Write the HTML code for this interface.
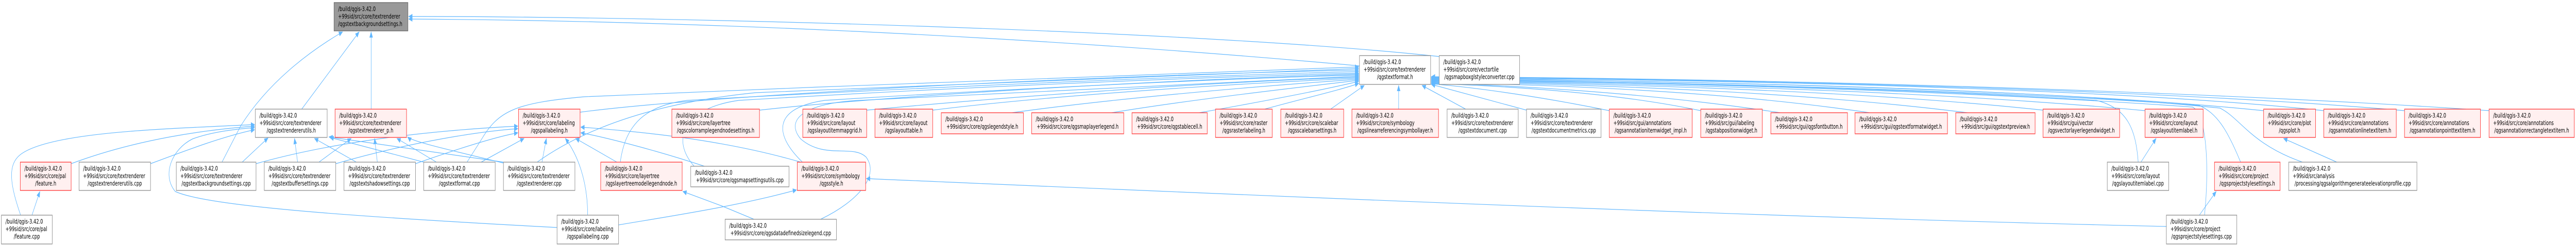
<!DOCTYPE html>
<html><head><meta charset="utf-8">
<style>
html,body{margin:0;padding:0;background:#fff;width:100vw;height:100vh;overflow:hidden;}
svg{display:block;width:100vw;height:100vh;}
text{font-family:"DejaVu Sans","Liberation Sans",sans-serif;font-size:12.5px;fill:#000;}
.m{text-anchor:middle;}
.w{fill:#fff;stroke:#8c8c8c;stroke-width:1.3;}
.r{fill:#fff0f0;stroke:#ff3333;stroke-width:1.3;}
.g{fill:#999;stroke:#666;stroke-width:1.3;}
.e{fill:none;stroke:#63b8ff;stroke-width:1.2;}
</style></head><body>
<svg viewBox="0 0 7496 476" preserveAspectRatio="none" xmlns="http://www.w3.org/2000/svg">
<defs><marker id="a" markerUnits="userSpaceOnUse" markerWidth="12" markerHeight="10" refX="11" refY="5" orient="auto"><path d="M0,0 L12,5 L0,10 z" fill="#63b8ff"/></marker></defs>
<g class="e" marker-end="url(#a)">
<path d="M3956,128 C3000,70 2000,40 1189,37"/>
<path d="M4190,110 C3500,60 2000,32 1189,32"/>
<path d="M878,212 L1045,62"/>
<path d="M1080,212 L1080,62"/>
<path d="M646,315 L700,245 C780,160 900,100 997,62"/>
<path d="M207,318 C400,270 600,252 741,245"/>
<path d="M438,318 C550,290 650,265 741,252"/>
<path d="M60,418 C30,360 20,320 60,300 C150,255 500,250 741,242"/>
<path d="M1621,442 C1000,420 600,400 510,372 C470,340 500,290 560,270 C620,255 700,250 741,248"/>
<path d="M700,318 L780,268"/>
<path d="M866,315 L857,269"/>
<path d="M1037,315 L915,269"/>
<path d="M1233,315 L960,267"/>
<path d="M1465,315 L957,266"/>
<path d="M928,315 L1022,269"/>
<path d="M1098,315 L1090,269"/>
<path d="M1270,315 L1155,269"/>
<path d="M1473,318 C1300,290 1200,275 1186,266"/>
<path d="M745,318 C1000,270 1300,252 1507,245"/>
<path d="M977,318 C1200,275 1400,255 1507,250"/>
<path d="M1209,318 C1350,285 1450,265 1507,258"/>
<path d="M1400,315 L1525,269"/>
<path d="M1577,315 L1590,269"/>
<path d="M1710,418 C1710,350 1680,300 1645,269"/>
<path d="M1795,315 L1675,269"/>
<path d="M2050,323 C1900,290 1750,265 1690,258"/>
<path d="M2330,315 C2100,270 1850,255 1690,247"/>
<path d="M2194,426 L2100,400 L1987,372"/>
<path d="M1800,437 C1950,420 2150,400 2318,369"/>
<path d="M6304,440 C5000,420 3500,375 2521,347"/>
<path d="M1359,315 L1400,272 C1450,215 1500,200 1700,188 C2500,165 3500,140 3954,130"/>
<path d="M1563,315 C1700,250 1900,200 2200,180 C3000,155 3600,140 3954,133"/>
<path d="M1688,218 C2000,190 3000,150 3954,136"/>
<path d="M1805,315 C1820,240 1880,205 2000,195 C2800,165 3600,145 3954,139"/>
<path d="M2020,323 C1950,270 1990,210 2150,195 C2900,165 3600,148 3954,142"/>
<path d="M2210,214 C2600,185 3400,155 3954,144"/>
<path d="M2335,315 C2250,260 2250,210 2400,195 C3000,170 3600,152 3954,146"/>
<path d="M2388,426 C2500,390 2560,340 2520,305 C2480,280 2400,310 2330,270 C2280,230 2350,200 2500,195 C3100,172 3600,155 3954,148"/>
<path d="M2522,214 C2900,190 3500,160 3954,150"/>
<path d="M2714,214 C3000,190 3500,165 3954,152"/>
<path d="M2945,219 C3200,195 3600,170 3954,154"/>
<path d="M3235,219 C3450,195 3750,172 3954,156"/>
<path d="M3490,219 C3650,200 3850,175 3954,158"/>
<path d="M3680,212 C3800,190 3900,175 3954,162"/>
<path d="M3872,212 L3970,166"/>
<path d="M4070,212 L4070,166"/>
<path d="M4265,212 L4138,166"/>
<path d="M4442,214 L4165,164"/>
<path d="M4683,215 C4500,190 4300,170 4165,163"/>
<path d="M4949,215 C4700,180 4400,168 4165,162"/>
<path d="M5180,219 C4800,180 4400,166 4165,161"/>
<path d="M5440,219 C5000,175 4500,165 4165,160"/>
<path d="M5725,219 C5200,175 4600,164 4165,159"/>
<path d="M5945,214 C5400,175 4700,163 4165,158"/>
<path d="M6242,215 C5600,175 4800,162 4165,157"/>
<path d="M6222,315 C6215,250 6190,210 6100,195 C5500,170 4800,160 4165,156"/>
<path d="M6415,418 C6430,320 6420,220 6380,208 C5800,180 4900,160 4165,155"/>
<path d="M6520,315 C6480,250 6450,220 6400,205 C5800,175 4900,160 4165,154"/>
<path d="M6700,315 C6550,280 6520,230 6460,210 C5900,172 5000,158 4165,153"/>
<path d="M6587,215 C6000,175 5000,158 4165,152"/>
<path d="M6762,215 C6200,175 5200,156 4165,151"/>
<path d="M6997,215 C6400,180 5300,155 4165,150"/>
<path d="M7243,215 C6600,185 5400,154 4165,149"/>
<path d="M93,418 L116,372"/>
<path d="M6230,315 L6274,269"/>
<path d="M6400,418 L6449,372"/>
<path d="M6800,315 L6645,269"/>
</g>
<rect class="g" x="972" y="5" width="215" height="55"/>
<text x="984" y="21.5">/build/qgis-3.42.0</text><text x="984" y="36">+99sid/src/core/textrenderer</text><text x="984" y="50.5">/qgstextbackgroundsettings.h</text>

<rect class="w" x="743" y="212" width="209" height="55"/>
<text x="755" y="228.5">/build/qgis-3.42.0</text><text x="755" y="243">+99sid/src/core/textrenderer</text><text class="m" x="847.5" y="257.5">/qgstextrendererutils.h</text>

<rect class="r" x="975" y="212" width="208" height="55"/>
<text x="987" y="228.5">/build/qgis-3.42.0</text><text x="987" y="243">+99sid/src/core/textrenderer</text><text class="m" x="1079" y="257.5">/qgstextrenderer_p.h</text>

<rect class="r" x="59" y="315" width="148" height="55"/>
<text x="71" y="331.5">/build/qgis-3.42.0</text><text x="71" y="346">+99sid/src/core/pal</text><text class="m" x="133" y="360.5">/feature.h</text>

<rect class="w" x="230" y="315" width="208" height="55"/>
<text x="242" y="331.5">/build/qgis-3.42.0</text><text x="242" y="346">+99sid/src/core/textrenderer</text><text class="m" x="334" y="360.5">/qgstextrendererutils.cpp</text>

<rect class="w" x="513" y="315" width="232" height="55"/>
<text x="525" y="331.5">/build/qgis-3.42.0</text><text x="525" y="346">+99sid/src/core/textrenderer</text><text class="m" x="629" y="360.5">/qgstextbackgroundsettings.cpp</text>

<rect class="w" x="4" y="418" width="148" height="56"/>
<text x="16" y="434.5">/build/qgis-3.42.0</text><text x="16" y="449">+99sid/src/core/pal</text><text class="m" x="78" y="463.5">/feature.cpp</text>

<rect class="w" x="769" y="315" width="208" height="55"/>
<text x="781" y="331.5">/build/qgis-3.42.0</text><text x="781" y="346">+99sid/src/core/textrenderer</text><text class="m" x="873" y="360.5">/qgstextbuffersettings.cpp</text>

<rect class="w" x="1001" y="315" width="208" height="55"/>
<text x="1013" y="331.5">/build/qgis-3.42.0</text><text x="1013" y="346">+99sid/src/core/textrenderer</text><text class="m" x="1105" y="360.5">/qgstextshadowsettings.cpp</text>

<rect class="w" x="1233" y="315" width="208" height="55"/>
<text x="1245" y="331.5">/build/qgis-3.42.0</text><text x="1245" y="346">+99sid/src/core/textrenderer</text><text class="m" x="1337" y="360.5">/qgstextformat.cpp</text>

<rect class="r" x="1509" y="212" width="179" height="55"/>
<text x="1521" y="228.5">/build/qgis-3.42.0</text><text x="1521" y="243">+99sid/src/core/labeling</text><text class="m" x="1598.5" y="257.5">/qgspallabeling.h</text>

<rect class="w" x="1465" y="315" width="208" height="55"/>
<text x="1477" y="331.5">/build/qgis-3.42.0</text><text x="1477" y="346">+99sid/src/core/textrenderer</text><text class="m" x="1569" y="360.5">/qgstextrenderer.cpp</text>

<rect class="r" x="1748" y="315" width="237" height="55"/>
<text x="1760" y="331.5">/build/qgis-3.42.0</text><text x="1760" y="346">+99sid/src/core/layertree</text><text class="m" x="1866.5" y="360.5">/qgslayertreemodellegendnode.h</text>

<rect class="w" x="1621" y="418" width="179" height="56"/>
<text x="1633" y="434.5">/build/qgis-3.42.0</text><text x="1633" y="449">+99sid/src/core/labeling</text><text class="m" x="1710.5" y="463.5">/qgspallabeling.cpp</text>

<rect class="r" x="1955" y="212" width="255" height="55"/>
<text x="1967" y="228.5">/build/qgis-3.42.0</text><text x="1967" y="243">+99sid/src/core/layertree</text><text class="m" x="2082.5" y="257.5">/qgscolorramplegendnodesettings.h</text>

<rect class="w" x="2010" y="323" width="286" height="40"/>
<text x="2022" y="339.5">/build/qgis-3.42.0</text><text class="m" x="2153" y="354">+99sid/src/core/qgsmapsettingsutils.cpp</text>

<rect class="r" x="2320" y="315" width="199" height="55"/>
<text x="2332" y="331.5">/build/qgis-3.42.0</text><text x="2332" y="346">+99sid/src/core/symbology</text><text class="m" x="2419.5" y="360.5">/qgsstyle.h</text>

<rect class="w" x="2110" y="426" width="324" height="40"/>
<text x="2122" y="442.5">/build/qgis-3.42.0</text><text class="m" x="2272" y="457">+99sid/src/core/qgsdatadefinedsizelegend.cpp</text>

<rect class="r" x="2336" y="212" width="186" height="55"/>
<text x="2348" y="228.5">/build/qgis-3.42.0</text><text x="2348" y="243">+99sid/src/core/layout</text><text class="m" x="2429" y="257.5">/qgslayoutitemmapgrid.h</text>

<rect class="r" x="2546" y="212" width="168" height="55"/>
<text x="2558" y="228.5">/build/qgis-3.42.0</text><text x="2558" y="243">+99sid/src/core/layout</text><text class="m" x="2630" y="257.5">/qgslayouttable.h</text>

<rect class="r" x="2739" y="219" width="239" height="41"/>
<text x="2751" y="235.5">/build/qgis-3.42.0</text><text class="m" x="2858.5" y="250">+99sid/src/core/qgslegendstyle.h</text>

<rect class="r" x="3002" y="219" width="268" height="41"/>
<text x="3014" y="235.5">/build/qgis-3.42.0</text><text class="m" x="3136" y="250">+99sid/src/core/qgsmaplayerlegend.h</text>

<rect class="r" x="3294" y="219" width="219" height="41"/>
<text x="3306" y="235.5">/build/qgis-3.42.0</text><text class="m" x="3403.5" y="250">+99sid/src/core/qgstablecell.h</text>

<rect class="r" x="3537" y="212" width="165" height="55"/>
<text x="3549" y="228.5">/build/qgis-3.42.0</text><text x="3549" y="243">+99sid/src/core/raster</text><text class="m" x="3619.5" y="257.5">/qgsrasterlabeling.h</text>

<rect class="r" x="3727" y="212" width="183" height="55"/>
<text x="3739" y="228.5">/build/qgis-3.42.0</text><text x="3739" y="243">+99sid/src/core/scalebar</text><text class="m" x="3818.5" y="257.5">/qgsscalebarsettings.h</text>

<rect class="r" x="3934" y="212" width="252" height="55"/>
<text x="3946" y="228.5">/build/qgis-3.42.0</text><text x="3946" y="243">+99sid/src/core/symbology</text><text class="m" x="4060" y="257.5">/qgslinearreferencingsymbollayer.h</text>

<rect class="w" x="4211" y="212" width="207" height="55"/>
<text x="4223" y="228.5">/build/qgis-3.42.0</text><text x="4223" y="243">+99sid/src/core/textrenderer</text><text class="m" x="4314.5" y="257.5">/qgstextdocument.cpp</text>

<rect class="w" x="4442" y="212" width="217" height="55"/>
<text x="4454" y="228.5">/build/qgis-3.42.0</text><text x="4454" y="243">+99sid/src/core/textrenderer</text><text class="m" x="4550.5" y="257.5">/qgstextdocumentmetrics.cpp</text>

<rect class="w" x="3956" y="108" width="207" height="56"/>
<text x="3968" y="124.5">/build/qgis-3.42.0</text><text x="3968" y="139">+99sid/src/core/textrenderer</text><text class="m" x="4059.5" y="153.5">/qgstextformat.h</text>

<rect class="w" x="4188" y="108" width="234" height="56"/>
<text x="4200" y="124.5">/build/qgis-3.42.0</text><text x="4200" y="139">+99sid/src/core/vectortile</text><text class="m" x="4305" y="153.5">/qgsmapboxglstyleconverter.cpp</text>

<rect class="r" x="4683" y="212" width="241" height="55"/>
<text x="4695" y="228.5">/build/qgis-3.42.0</text><text x="4695" y="243">+99sid/src/gui/annotations</text><text class="m" x="4803.5" y="257.5">/qgsannotationitemwidget_impl.h</text>

<rect class="r" x="4949" y="212" width="179" height="55"/>
<text x="4961" y="228.5">/build/qgis-3.42.0</text><text x="4961" y="243">+99sid/src/gui/labeling</text><text class="m" x="5038.5" y="257.5">/qgstabpositionwidget.h</text>

<rect class="r" x="5153" y="219" width="223" height="41"/>
<text x="5165" y="235.5">/build/qgis-3.42.0</text><text class="m" x="5264.5" y="250">+99sid/src/gui/qgsfontbutton.h</text>

<rect class="r" x="5398" y="219" width="269" height="41"/>
<text x="5410" y="235.5">/build/qgis-3.42.0</text><text class="m" x="5532.5" y="250">+99sid/src/gui/qgstextformatwidget.h</text>

<rect class="r" x="5691" y="219" width="231" height="41"/>
<text x="5703" y="235.5">/build/qgis-3.42.0</text><text class="m" x="5806.5" y="250">+99sid/src/gui/qgstextpreview.h</text>

<rect class="r" x="5945" y="212" width="223" height="55"/>
<text x="5957" y="228.5">/build/qgis-3.42.0</text><text x="5957" y="243">+99sid/src/gui/vector</text><text class="m" x="6056.5" y="257.5">/qgsvectorlayerlegendwidget.h</text>

<rect class="r" x="6242" y="212" width="169" height="55"/>
<text x="6254" y="228.5">/build/qgis-3.42.0</text><text x="6254" y="243">+99sid/src/core/layout</text><text class="m" x="6326.5" y="257.5">/qgslayoutitemlabel.h</text>

<rect class="r" x="6587" y="212" width="151" height="55"/>
<text x="6599" y="228.5">/build/qgis-3.42.0</text><text x="6599" y="243">+99sid/src/core/plot</text><text class="m" x="6662.5" y="257.5">/qgsplot.h</text>

<rect class="r" x="6762" y="212" width="211" height="55"/>
<text x="6774" y="228.5">/build/qgis-3.42.0</text><text x="6774" y="243">+99sid/src/core/annotations</text><text class="m" x="6867.5" y="257.5">/qgsannotationlinetextitem.h</text>

<rect class="r" x="6997" y="212" width="221" height="55"/>
<text x="7009" y="228.5">/build/qgis-3.42.0</text><text x="7009" y="243">+99sid/src/core/annotations</text><text class="m" x="7107.5" y="257.5">/qgsannotationpointtextitem.h</text>

<rect class="r" x="7243" y="212" width="248" height="55"/>
<text x="7255" y="228.5">/build/qgis-3.42.0</text><text x="7255" y="243">+99sid/src/core/annotations</text><text class="m" x="7367" y="257.5">/qgsannotationrectangletextitem.h</text>

<rect class="w" x="6132" y="315" width="179" height="55"/>
<text x="6144" y="331.5">/build/qgis-3.42.0</text><text x="6144" y="346">+99sid/src/core/layout</text><text class="m" x="6221.5" y="360.5">/qgslayoutitemlabel.cpp</text>

<rect class="r" x="6444" y="315" width="191" height="55"/>
<text x="6456" y="331.5">/build/qgis-3.42.0</text><text x="6456" y="346">+99sid/src/core/project</text><text class="m" x="6539.5" y="360.5">/qgsprojectstylesettings.h</text>

<rect class="w" x="6660" y="315" width="373" height="55"/>
<text x="6672" y="331.5">/build/qgis-3.42.0</text><text x="6672" y="346">+99sid/src/analysis</text><text class="m" x="6846.5" y="360.5">/processing/qgsalgorithmgenerateelevationprofile.cpp</text>

<rect class="w" x="6304" y="418" width="205" height="56"/>
<text x="6316" y="434.5">/build/qgis-3.42.0</text><text x="6316" y="449">+99sid/src/core/project</text><text class="m" x="6406.5" y="463.5">/qgsprojectstylesettings.cpp</text>
</svg>
</body></html>
